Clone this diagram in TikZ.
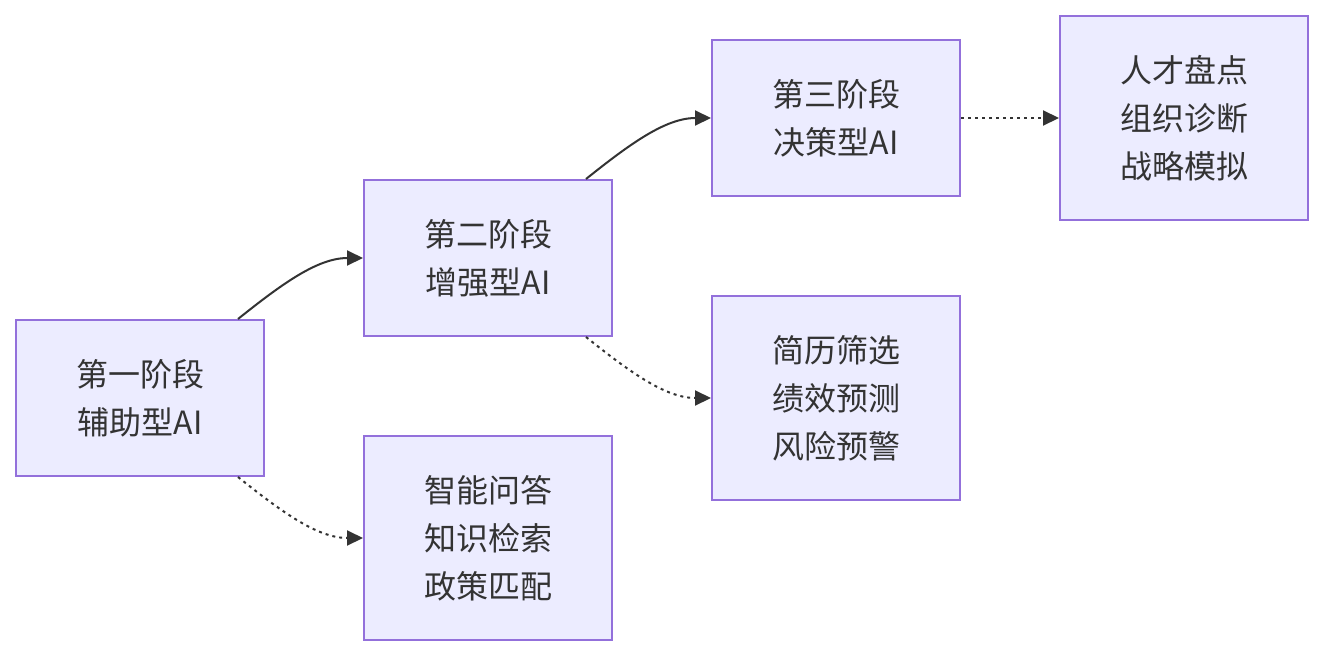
\documentclass[tikz,border=0pt]{standalone}
\usepackage{fontspec}
\setmainfont{Noto Sans CJK SC}
\usetikzlibrary{arrows.meta}
\definecolor{boxfill}{HTML}{ECECFF}
\definecolor{boxline}{HTML}{9370DB}
\definecolor{txt}{HTML}{333333}
\begin{document}
\begin{tikzpicture}[x=1pt,y=-1pt,
  box/.style={draw=boxline,fill=boxfill,line width=2pt,minimum width=248pt,inner sep=0pt,
    align=center,text=txt,font=\fontsize{32pt}{48pt}\selectfont},
  small/.style={box,minimum height=156pt},
  tall/.style={box,minimum height=204pt},
  link/.style={draw=txt,line width=2pt,-{Triangle[length=16pt,width=15pt]}},
  dlink/.style={link,dash pattern=on 3pt off 4pt}]
\useasboundingbox (0,0) rectangle (1324,656);
\node[small] (s1) at (140,398) {第一阶段\\辅助型AI};
\node[tall] (a1) at (488,538) {智能问答\\知识检索\\政策匹配};
\node[small] (s2) at (488,258) {第二阶段\\增强型AI};
\node[tall] (a2) at (836,398) {简历筛选\\绩效预测\\风险预警};
\node[small] (s3) at (836,118) {第三阶段\\决策型AI};
\node[tall] (a3) at (1184,118) {人才盘点\\组织诊断\\战略模拟};
\coordinate (s1t) at ([xshift=98pt]s1.north);
\coordinate (s1b) at ([xshift=98pt]s1.south);
\coordinate (s2t) at ([xshift=98pt]s2.north);
\coordinate (s2b) at ([xshift=98pt]s2.south);
\draw[link] (s1t) .. controls +(45,-36) and +(-45,0) .. (s2.west);
\draw[dlink] (s1b) .. controls +(45,36) and +(-45,0) .. (a1.west);
\draw[link] (s2t) .. controls +(45,-36) and +(-45,0) .. (s3.west);
\draw[dlink] (s2b) .. controls +(45,36) and +(-45,0) .. (a2.west);
\draw[dlink] (s3.east) -- (a3.west);
\end{tikzpicture}
\end{document}
